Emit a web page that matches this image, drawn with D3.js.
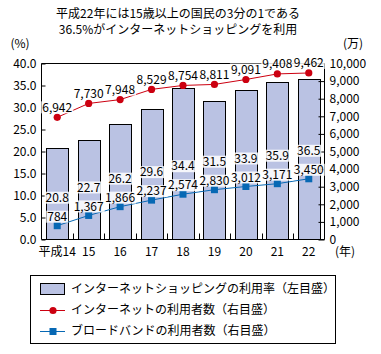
<!DOCTYPE html>
<html>
<head>
<meta charset="utf-8">
<script src="https://cdn.jsdelivr.net/npm/d3@7"></script>
<style>
  body { margin: 0; background: #fff; }
  text { font-family: "Noto Sans CJK JP", "Noto Sans", sans-serif; font-size: 12px; fill: #000; }
</style>
</head>
<body>
<div id="chart"></div>
<script>
// Data
const years = ["平成14", "15", "16", "17", "18", "19", "20", "21", "22"];
const shoppingRate = [20.8, 22.7, 26.2, 29.6, 34.4, 31.5, 33.9, 35.9, 36.5];
const internetUsers = [6942, 7730, 7948, 8529, 8754, 8811, 9091, 9408, 9462];
const broadbandUsers = [784, 1367, 1866, 2237, 2574, 2830, 3012, 3171, 3450];
const leftTicks = [0, 5, 10, 15, 20, 25, 30, 35, 40];
const rightTicks = [0, 1000, 2000, 3000, 4000, 5000, 6000, 7000, 8000, 9000, 10000];
const titleLines = ["平成22年には15歳以上の国民の3分の1である", "36.5%がインターネットショッピングを利用"];
const legendLabels = ["インターネットショッピングの利用率（左目盛）", "インターネットの利用者数（右目盛）", "ブロードバンドの利用者数（右目盛）"];

const barColor = "#bac2e3";
const redColor = "#cc0010";
const blueColor = "#0768b4";

const svg = d3.select("#chart")
  .append("svg")
  .attr("width", 381)
  .attr("height", 354);

// Plot area
const plot = { left: 41.5, right: 324.5, top: 63.5, bottom: 239.5 };

const x = d3.scaleBand()
  .domain(years)
  .range([plot.left, plot.right])
  .paddingInner(0.3)
  .paddingOuter(0.15);

const yLeft = d3.scaleLinear().domain([0, 40]).range([plot.bottom, plot.top]);
const yRight = d3.scaleLinear().domain([0, 10000]).range([plot.bottom, plot.top]);

// Title
svg.selectAll(".title")
  .data(titleLines)
  .enter()
  .append("text")
  .attr("class", "title")
  .attr("x", 178)
  .attr("y", (d, i) => 14 + i * 16)
  .attr("dy", "0.35em")
  .style("text-anchor", "middle")
  .text(d => d);

// Unit labels
svg.append("text").attr("x", 20).attr("y", 44).attr("dy", "0.35em")
  .style("text-anchor", "middle").text("(%)");
svg.append("text").attr("x", 353).attr("y", 44).attr("dy", "0.35em")
  .style("text-anchor", "middle").text("(万)");
svg.append("text").attr("x", 345).attr("y", 252).attr("dy", "0.35em")
  .style("text-anchor", "middle").text("(年)");

// Bars
svg.selectAll(".bar")
  .data(shoppingRate)
  .enter()
  .append("rect")
  .attr("class", "bar")
  .attr("x", (d, i) => Math.round(x(years[i])) + 0.5)
  .attr("width", Math.round(x.bandwidth()))
  .attr("y", d => Math.round(yLeft(d)) + 0.5)
  .attr("height", d => plot.bottom - Math.round(yLeft(d)) - 0.5)
  .attr("fill", barColor)
  .attr("stroke", "#000")
  .attr("stroke-width", 1);

// Left axis (ticks pointing inwards)
const leftAxis = svg.append("g")
  .attr("transform", `translate(${plot.left},0)`)
  .call(d3.axisRight(yLeft).tickValues(leftTicks).tickSize(4).tickFormat(d3.format(".1f")));
leftAxis.select(".domain").remove();
leftAxis.selectAll("line").attr("stroke", "#000");
leftAxis.selectAll("text")
  .attr("x", -5)
  .style("text-anchor", "end")
  .attr("font-family", null)
  .attr("font-size", null);

// Right axis (ticks pointing inwards)
const rightAxis = svg.append("g")
  .attr("transform", `translate(${plot.right},0)`)
  .call(d3.axisLeft(yRight).tickValues(rightTicks).tickSize(6).tickFormat(d3.format(",")));
rightAxis.select(".domain").remove();
rightAxis.selectAll("line").attr("stroke", "#000");
rightAxis.selectAll("text")
  .attr("x", 5)
  .style("text-anchor", "start")
  .attr("font-family", null)
  .attr("font-size", null);

// Category tick marks between bars, pointing up from the bottom axis
const step = x.step();
const gapMid = d => Math.round(x(d) + x.bandwidth() + (step - x.bandwidth()) / 2) + 0.5;
svg.selectAll(".cat-tick")
  .data(years.slice(0, -1))
  .enter()
  .append("line")
  .attr("class", "cat-tick")
  .attr("x1", gapMid)
  .attr("x2", gapMid)
  .attr("y1", plot.bottom)
  .attr("y2", plot.bottom - 6)
  .attr("stroke", "#000");

// Category labels
svg.selectAll(".cat-label")
  .data(years)
  .enter()
  .append("text")
  .attr("class", "cat-label")
  .attr("x", d => x(d) + x.bandwidth() / 2)
  .attr("y", 252)
  .attr("dy", "0.35em")
  .style("text-anchor", "middle")
  .text(d => d);

// Lines
const cx = (d, i) => x(years[i]) + x.bandwidth() / 2;

const lineGen = d3.line()
  .x(cx)
  .y(d => yRight(d));

svg.append("path")
  .datum(internetUsers)
  .attr("fill", "none")
  .attr("stroke", redColor)
  .attr("stroke-width", 1)
  .attr("d", lineGen);

svg.append("path")
  .datum(broadbandUsers)
  .attr("fill", "none")
  .attr("stroke", blueColor)
  .attr("stroke-width", 1)
  .attr("d", lineGen);

// Frame: left, bottom, top and right edges
svg.append("path")
  .attr("d", `M${plot.left},${plot.top}V${plot.bottom}H${plot.right}V${plot.top}H${plot.left}`)
  .attr("fill", "none")
  .attr("stroke", "#000");

// Markers
svg.selectAll(".dot")
  .data(internetUsers)
  .enter()
  .append("circle")
  .attr("class", "dot")
  .attr("cx", cx)
  .attr("cy", d => yRight(d))
  .attr("r", 3.6)
  .attr("fill", redColor);

svg.selectAll(".sq")
  .data(broadbandUsers)
  .enter()
  .append("rect")
  .attr("class", "sq")
  .attr("x", (d, i) => cx(d, i) - 3.5)
  .attr("y", d => yRight(d) - 3.5)
  .attr("width", 7)
  .attr("height", 7)
  .attr("fill", blueColor);

// Value labels with a white box behind them
function addLabel(xPos, yPos, str) {
  const g = svg.append("g");
  const t = g.append("text")
    .attr("x", xPos)
    .attr("y", yPos)
    .attr("dy", "0.35em")
    .style("text-anchor", "middle")
    .text(str);
  const w = t.node().getComputedTextLength();
  g.insert("rect", "text")
    .attr("x", xPos - w / 2 - 1)
    .attr("y", yPos - 6)
    .attr("width", w + 2)
    .attr("height", 12)
    .attr("fill", "#fff")
    .attr("fill-opacity", 0.85);
}

const fmt = d3.format(",");
internetUsers.forEach((d, i) => addLabel(cx(d, i), yRight(d) - 10, fmt(d)));
broadbandUsers.forEach((d, i) => addLabel(cx(d, i), yRight(d) - 9, fmt(d)));
shoppingRate.forEach((d, i) => addLabel(cx(d, i), yRight(broadbandUsers[i]) - 28, d.toFixed(1)));

// Legend
svg.append("rect")
  .attr("x", 30.5)
  .attr("y", 275.5)
  .attr("width", 305)
  .attr("height", 68)
  .attr("fill", "#fff")
  .attr("stroke", "#000");

const legend = svg.selectAll(".legend")
  .data(legendLabels)
  .enter()
  .append("g")
  .attr("class", "legend")
  .attr("transform", (d, i) => `translate(40, ${289 + i * 21})`);

legend.filter((d, i) => i === 0).append("rect")
  .attr("x", 0.5)
  .attr("y", -5.5)
  .attr("width", 24)
  .attr("height", 11)
  .attr("fill", barColor)
  .attr("stroke", "#000");

legend.filter((d, i) => i > 0).append("line")
  .attr("x1", 0)
  .attr("x2", 25)
  .attr("y1", 0.5)
  .attr("y2", 0.5)
  .attr("stroke", (d, i) => i === 0 ? redColor : blueColor);

legend.filter((d, i) => i === 1).append("circle")
  .attr("cx", 13)
  .attr("cy", 0.5)
  .attr("r", 3.6)
  .attr("fill", redColor);

legend.filter((d, i) => i === 2).append("rect")
  .attr("x", 9.5)
  .attr("y", -3)
  .attr("width", 7)
  .attr("height", 7)
  .attr("fill", blueColor);

legend.append("text")
  .attr("x", 31)
  .attr("y", 0)
  .attr("dy", "0.35em")
  .text(d => d);
</script>
</body>
</html>
